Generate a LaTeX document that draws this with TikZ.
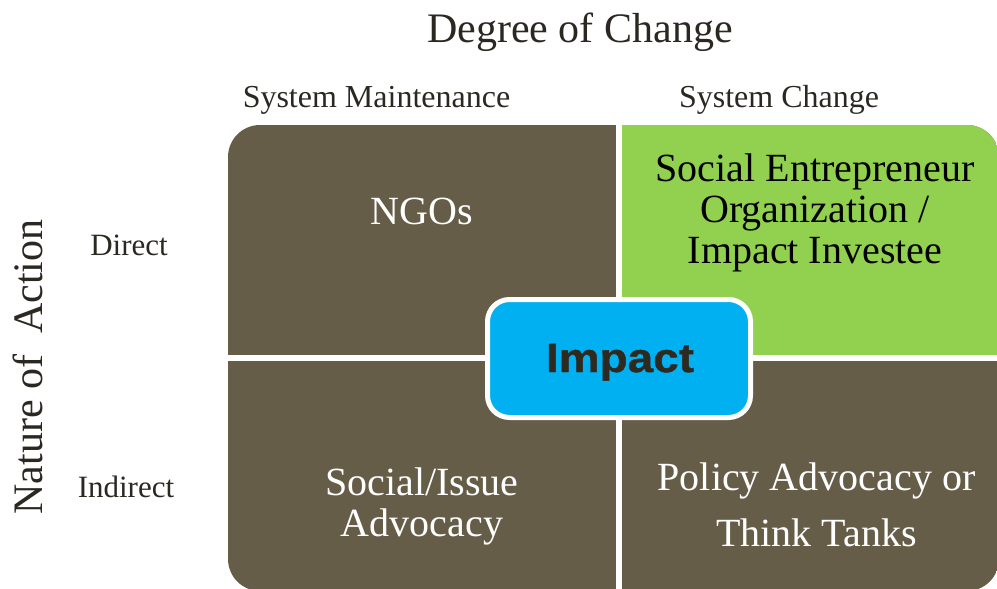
\documentclass[tikz,border=0pt]{standalone}
\usepackage{fontspec}
\setmainfont{Liberation Serif}
\newfontfamily\impactfont{Liberation Sans}[FakeStretch=1.12, FakeBold=1.2]
\definecolor{quadbrown}{HTML}{665D48}
\definecolor{quadgreen}{HTML}{92D050}
\definecolor{impactblue}{HTML}{00B0F0}
\definecolor{labelink}{HTML}{2B2822}
\definecolor{impactink}{HTML}{2E2A20}
\tikzset{
  axislabel/.style={text=labelink, font=\fontsize{42}{48}\selectfont, inner sep=0pt, anchor=base},
  sublabel/.style={text=labelink, font=\fontsize{31}{36}\selectfont, inner sep=0pt, anchor=base},
  colhead/.style={text=labelink, font=\fontsize{32}{36}\selectfont, inner sep=0pt, anchor=base},
  quadtext/.style={font=\fontsize{40}{41}\selectfont, inner sep=0pt, anchor=base, align=center},
  impactbox/.style={fill=impactblue, draw=white, line width=5pt, rounded corners=22pt,
    minimum width=263pt, minimum height=118pt, inner sep=0pt},
  divider/.style={draw=white, line width=5.5pt}
}
\begin{document}
\begin{tikzpicture}[x=1pt, y=-1pt]
\useasboundingbox (0,0) rectangle (997,589);

% matrix of four quadrants, outer corners rounded
\begin{scope}
  \clip[rounded corners=32pt] (228,125) rectangle (999,591);
  \fill[quadbrown] (228,125) rectangle (999,591);
  \fill[quadgreen] (619,125) rectangle (999,358);
\end{scope}
\coordinate (vtop) at (619,118);
\coordinate (vbot) at (619,595);
\coordinate (hleft) at (220,358);
\coordinate (hright) at (1005,358);
\draw[divider] (vtop) -- (vbot);
\draw[divider] (hleft) -- (hright);

% axis titles
\node[axislabel] (degree) at (580,42) {Degree of Change};
\node[axislabel, rotate=90] (nature) at (42,367) {Nature of~~Action};
\node[colhead] (maint) at (376.5,107) {System Maintenance};
\node[colhead] (change) at (779,107) {System Change};
\node[sublabel] (direct) at (129,255) {Direct};
\node[sublabel] (indirect) at (126,497) {Indirect};

% quadrant contents (multi-line nodes sit on the baseline of their last line)
\node[quadtext, text=white] (ngo) at (422,224) {NGOs};
\node[quadtext, text=black] (social) at (815,263) {Social Entrepreneur\\Organization /\\Impact Investee};
\node[quadtext, text=white] (issue) at (422,536) {Social/Issue\\Advocacy};
\node[quadtext, text=white, font=\fontsize{40}{56}\selectfont] (policy) at (816.5,546) {Policy Advocacy or\\Think Tanks};

% central badge
\node[impactbox] (impact) at (619,358.5) {};
\node[text=impactink, font=\impactfont\bfseries\fontsize{41}{46}\selectfont, inner sep=0pt, anchor=base] (impacttext) at (620,372) {Impact};
\end{tikzpicture}
\end{document}
